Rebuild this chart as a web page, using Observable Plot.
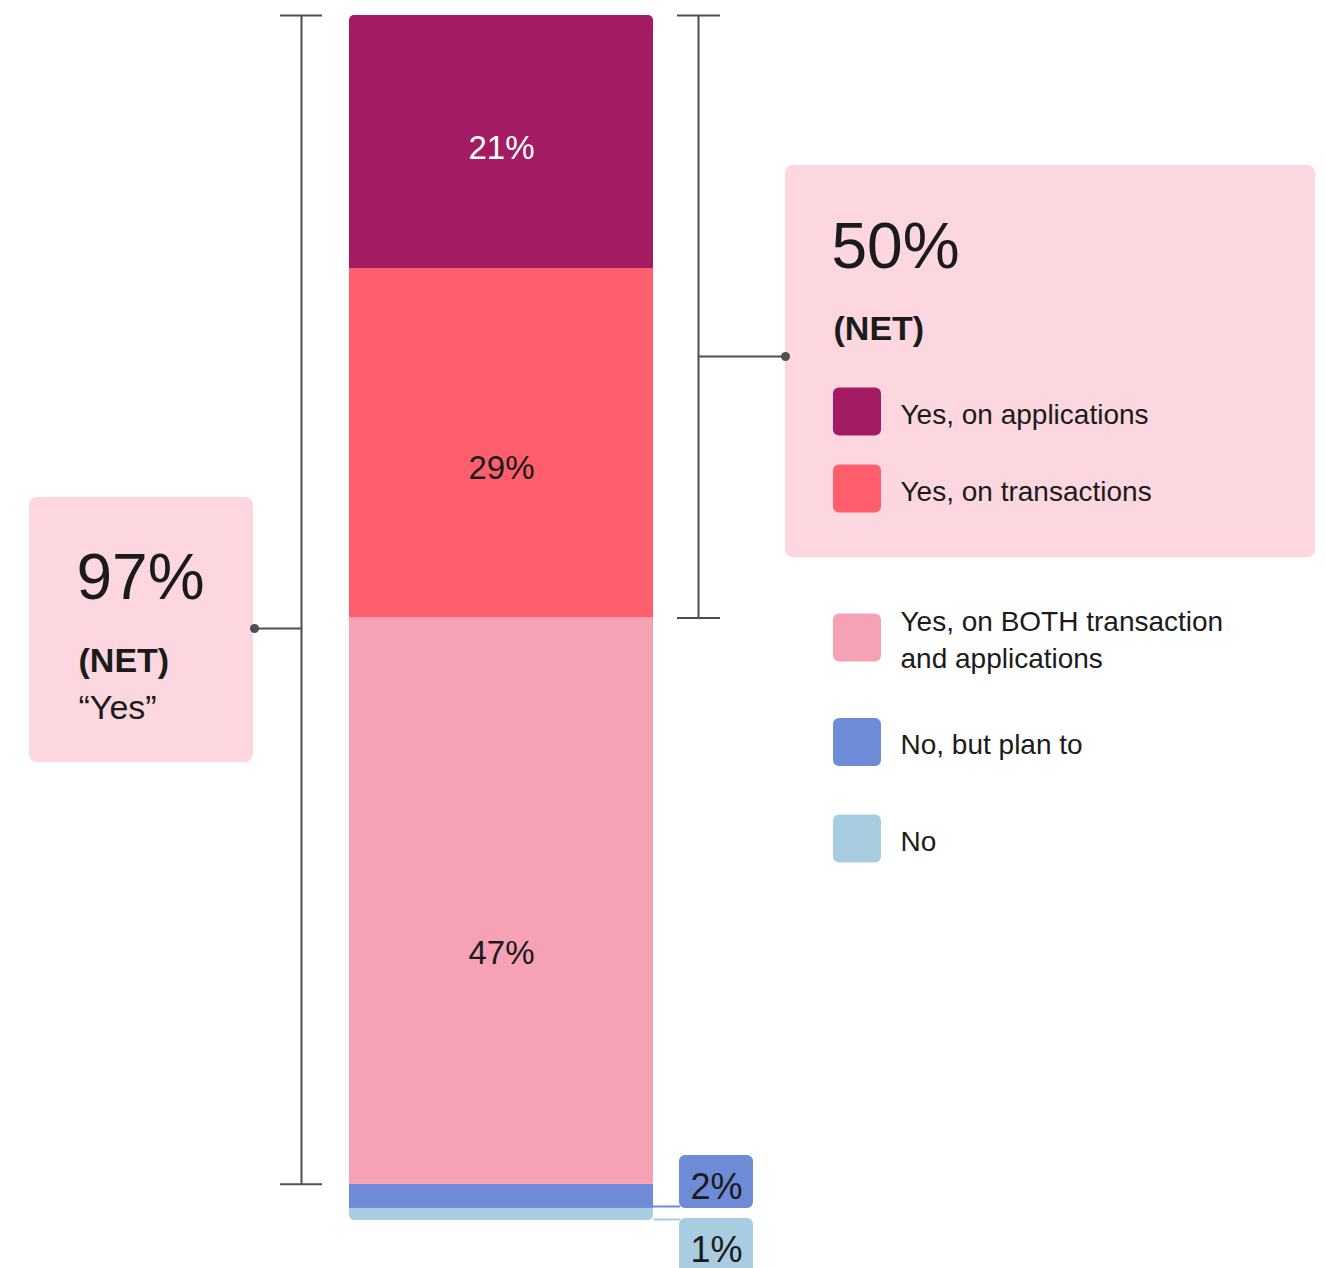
<!DOCTYPE html>
<html>
<head>
<meta charset="utf-8">
<script src="https://cdn.jsdelivr.net/npm/d3@7"></script>
<script src="https://cdn.jsdelivr.net/npm/@observablehq/plot@0.6"></script>
<style>
  html, body { margin: 0; padding: 0; background: #ffffff; }
  #chart svg { display: block; }
</style>
</head>
<body>
<div id="chart"></div>
<script>
// ---- Data ----
const categories = [
  "Yes, on applications",
  "Yes, on transactions",
  "Yes, on BOTH transaction and applications",
  "No, but plan to",
  "No"
];
const legendLabels = [
  "Yes, on applications",
  "Yes, on transactions",
  "Yes, on BOTH transaction\nand applications",
  "No, but plan to",
  "No"
];
const values = [21, 29, 47, 2, 1];
const colors = ["#A31B63", "#FF5F6D", "#F7A1B5", "#6E8BD8", "#A9CDE0"];
const netYes = 97;      // "Yes" NET
const netEither = 50;   // applications + transactions NET

// ---- Layout (pixels) ----
const W = 1325, H = 1268;
const Y_TOP = 15, Y_BOT = 1220;          // range of the percent scale
const pct = px => (Y_BOT - px) / (Y_BOT - Y_TOP) * 100; // pixel row -> percent units for annotation layout
const BAR_X1 = 349, BAR_X2 = 653;
const BOX = "#FDD7DF";
const INK = "#1b1b1b";
const LINE = "#4f4f4f";
const FONT = "'Liberation Sans', Arial, sans-serif";
const labelShift = [6, 25, 52]; // vertical nudge (px) of in-bar labels below segment middle

// stacked bottom-up: "No" at the bottom
const rows = categories.map((c, i) => ({category: c, value: values[i], label: legendLabels[i]})).reverse();

// callouts for the small segments
const callouts = [
  {category: "No, but plan to", top: 1155, bottom: 1208, lineY: 1206, textY: 1198},
  {category: "No", top: 1218, bottom: 1295, lineY: 1219, textY: 1261}
].map(d => ({...d, value: values[categories.indexOf(d.category)]}));

// legend rows
const legendCenters = [411.5, 488.5, 637.5, 742, 838.5];
const legend = categories.map((c, i) => ({category: c, label: legendLabels[i], cy: legendCenters[i]}));

const labelMarks = labelShift.map((dy, i) => Plot.text(rows, Plot.stackY({
  x: 501, y: "value", dy,
  text: d => d.category === categories[i] ? d.value + "%" : null,
  fill: i === 0 ? "#ffffff" : INK, fontSize: 33, lineAnchor: "middle"
})));

const chart = Plot.plot({
  width: W,
  height: H,
  margin: 0,
  style: {fontFamily: FONT, background: "#ffffff", overflow: "hidden"},
  x: {type: "identity"},
  y: {domain: [0, 100], range: [Y_BOT, Y_TOP], axis: null},
  color: {domain: categories, range: colors},
  marks: [
    // annotation boxes
    Plot.rect([netYes], {x1: 29, x2: 253, y1: pct(762), y2: pct(497), fill: BOX, rx: 8}),
    Plot.rect([netEither], {x1: 785, x2: 1315, y1: pct(557), y2: pct(165), fill: BOX, rx: 8}),

    // stacked bar
    Plot.rectY(rows, Plot.stackY({x1: BAR_X1, x2: BAR_X2, y: "value", fill: "category", className: "stackbar"})),

    // segment labels
    ...labelMarks,

    // small-segment callouts
    Plot.ruleY(callouts, {y: d => pct(d.lineY), x1: BAR_X2, x2: 680, stroke: "category", strokeWidth: 2}),
    Plot.rect(callouts, {x1: 679, x2: 753, y1: d => pct(d.bottom), y2: d => pct(d.top), fill: "category", rx: 6}),
    Plot.text(callouts, {x: 716, y: d => pct(d.textY), text: d => d.value + "%", fill: INK, fontSize: 36, lineAnchor: "bottom"}),

    // left bracket (NET yes)
    Plot.ruleX([netYes], {x: 301, y1: d => 100 - d, y2: 100, stroke: LINE, strokeWidth: 2}),
    Plot.ruleY([100 - netYes, 100], {x1: 280, x2: 322, stroke: LINE, strokeWidth: 2}),
    Plot.ruleY([netYes], {y: pct(628), x1: 254, x2: 301, stroke: LINE, strokeWidth: 2}),
    Plot.dot([netYes], {x: 254, y: pct(628), r: 4.5, fill: LINE}),

    // right bracket (NET applications + transactions)
    Plot.ruleX([netEither], {x: 698, y1: d => 100 - d, y2: 100, stroke: LINE, strokeWidth: 2}),
    Plot.ruleY([100 - netEither, 100], {x1: 677, x2: 720, stroke: LINE, strokeWidth: 2}),
    Plot.ruleY([netEither], {y: pct(356), x1: 698, x2: 785, stroke: LINE, strokeWidth: 2}),
    Plot.dot([netEither], {x: 785, y: pct(356), r: 4.5, fill: LINE}),

    // left box text
    Plot.text([netYes], {x: 76, y: pct(598), text: d => d + "%", fontSize: 64, fill: INK, textAnchor: "start", lineAnchor: "bottom"}),
    Plot.text(["(NET)"], {x: 78, y: pct(671), text: d => d, fontSize: 34, fontWeight: "bold", fill: INK, textAnchor: "start", lineAnchor: "bottom"}),
    Plot.text(["\u201CYes\u201D"], {x: 78, y: pct(718), text: d => d, fontSize: 34, fill: INK, textAnchor: "start", lineAnchor: "bottom"}),

    // right box text
    Plot.text([netEither], {x: 831, y: pct(267), text: d => d + "%", fontSize: 64, fill: INK, textAnchor: "start", lineAnchor: "bottom"}),
    Plot.text(["(NET)"], {x: 833, y: pct(339), text: d => d, fontSize: 34, fontWeight: "bold", fill: INK, textAnchor: "start", lineAnchor: "bottom"}),

    // legend
    Plot.rect(legend, {x1: 833, x2: 881, y1: d => pct(d.cy + 24), y2: d => pct(d.cy - 24), fill: "category", rx: 6}),
    Plot.text(legend, {x: 900, y: d => pct(d.cy), text: "label", fontSize: 28, lineHeight: 1.32, fill: INK, textAnchor: "start", lineAnchor: "middle"})
  ]
});

// round the outer corners of the stacked bar with a clip path
(function roundBar() {
  const svg = d3.select(chart);
  const g = svg.select("g.stackbar");
  if (g.empty()) return;
  const rects = g.selectAll("rect").nodes();
  let x0 = Infinity, x1 = -Infinity, y0 = Infinity, y1 = -Infinity;
  rects.forEach(r => {
    const x = +r.getAttribute("x"), y = +r.getAttribute("y");
    const w = +r.getAttribute("width"), h = +r.getAttribute("height");
    x0 = Math.min(x0, x); x1 = Math.max(x1, x + w);
    y0 = Math.min(y0, y); y1 = Math.max(y1, y + h);
  });
  const id = "bar-clip";
  svg.append("defs").append("clipPath").attr("id", id)
    .append("rect").attr("x", x0).attr("y", y0)
    .attr("width", x1 - x0).attr("height", y1 - y0).attr("rx", 5);
  g.attr("clip-path", `url(#${id})`);
})();

document.getElementById("chart").appendChild(chart);
</script>
</body>
</html>
